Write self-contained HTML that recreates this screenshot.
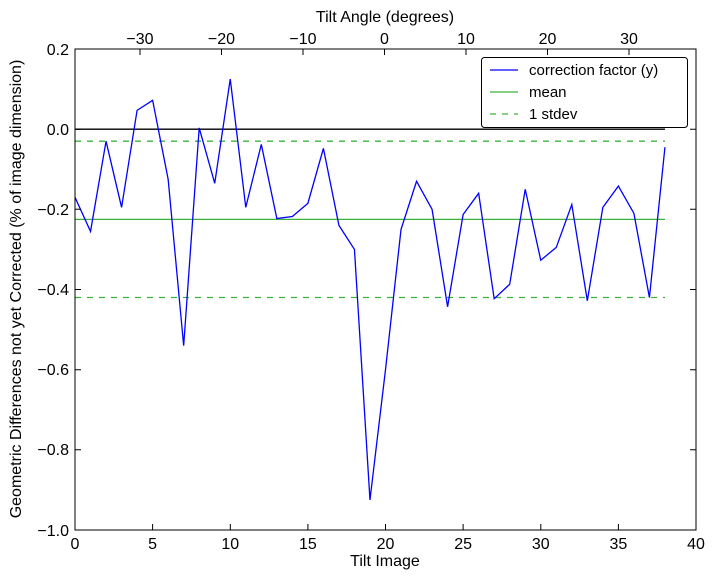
<!DOCTYPE html>
<html><head><meta charset="utf-8"><style>
body{margin:0;background:#fff}
svg text{font-family:"Liberation Sans","DejaVu Sans",sans-serif;fill:#000}
</style></head><body>
<svg width="714" height="579" xmlns="http://www.w3.org/2000/svg">
<rect width="714" height="579" fill="#fff"/>
<line x1="75" y1="129.2" x2="665" y2="129.2" stroke="#000" stroke-width="1.3"/>
<line x1="75" y1="219.4" x2="665" y2="219.4" stroke="#3cb43c" stroke-width="1.3"/>
<line x1="75" y1="141.2" x2="665" y2="141.2" stroke="#3cb43c" stroke-width="1.3" stroke-dasharray="6,6"/>
<line x1="75" y1="297.5" x2="665" y2="297.5" stroke="#3cb43c" stroke-width="1.3" stroke-dasharray="6,6"/>
<g transform="translate(75,129.17) scale(15.525,-400.85)" fill="none">
<polyline stroke="#0000ff" stroke-width="1.3" vector-effect="non-scaling-stroke" points="0,-0.17 1,-0.255 2,-0.03 3,-0.195 4,0.047 5,0.072 6,-0.125 7,-0.54 8,0.003 9,-0.135 10,0.125 11,-0.195 12,-0.038 13,-0.223 14,-0.218 15,-0.185 16,-0.048 17,-0.24 18,-0.3 19,-0.925 20,-0.6 21,-0.25 22,-0.13 23,-0.2 24,-0.443 25,-0.213 26,-0.16 27,-0.423 28,-0.387 29,-0.15 30,-0.327 31,-0.295 32,-0.188 33,-0.428 34,-0.195 35,-0.142 36,-0.21 37,-0.42 38,-0.045"/>
</g>
<rect x="75" y="49" width="621" height="481" fill="none" stroke="#000" stroke-width="1"/>
<g stroke="#000" stroke-width="1">
<path d="M75,530v-6M75,49v6M152.6,530v-6M230.3,530v-6M307.9,530v-6M385.5,530v-6M463.1,530v-6M540.8,530v-6M618.4,530v-6M696,530v-6"/>
<path d="M140,49v6M221.5,49v6M303,49v6M384.5,49v6M466,49v6M547.5,49v6M629,49v6"/>
<path d="M75,49h6M75,129.2h6M75,209.3h6M75,289.5h6M75,369.7h6M75,449.8h6M75,530h6"/>
<path d="M696,49h-6M696,129.2h-6M696,209.3h-6M696,289.5h-6M696,369.7h-6M696,449.8h-6M696,530h-6"/>
</g>
<g font-size="16" text-anchor="middle">
<text x="75" y="549">0</text><text x="152.6" y="549">5</text><text x="230.3" y="549">10</text><text x="307.9" y="549">15</text><text x="385.5" y="549">20</text><text x="463.1" y="549">25</text><text x="540.8" y="549">30</text><text x="618.4" y="549">35</text><text x="696" y="549">40</text>
<text x="140" y="44">−30</text><text x="221.5" y="44">−20</text><text x="303" y="44">−10</text><text x="384.5" y="44">0</text><text x="466" y="44">10</text><text x="547.5" y="44">20</text><text x="629" y="44">30</text>
<text x="385" y="566">Tilt Image</text>
<text x="385" y="22">Tilt Angle (degrees)</text>
</g>
<g font-size="16" text-anchor="end">
<text x="69" y="55">0.2</text><text x="69" y="135">0.0</text><text x="69" y="215">−0.2</text><text x="69" y="295">−0.4</text><text x="69" y="375">−0.6</text><text x="69" y="455">−0.8</text><text x="69" y="536">−1.0</text>
</g>
<text font-size="16" text-anchor="middle" transform="translate(21,289) rotate(-90)">Geometric Differences not yet Corrected (% of image dimension)</text>
<rect x="481.5" y="57.5" width="206" height="70" rx="3" fill="#fff" stroke="#000"/>
<line x1="490" y1="70" x2="518" y2="70" stroke="#0000ff" stroke-width="1.3"/>
<line x1="490" y1="92" x2="518" y2="92" stroke="#3cb43c" stroke-width="1.3"/>
<line x1="490" y1="114" x2="518" y2="114" stroke="#3cb43c" stroke-width="1.3" stroke-dasharray="6,6"/>
<g font-size="15"><text x="529" y="75">correction factor (y)</text><text x="529" y="97">mean</text><text x="529" y="119">1 stdev</text></g>
</svg>
</body></html>
